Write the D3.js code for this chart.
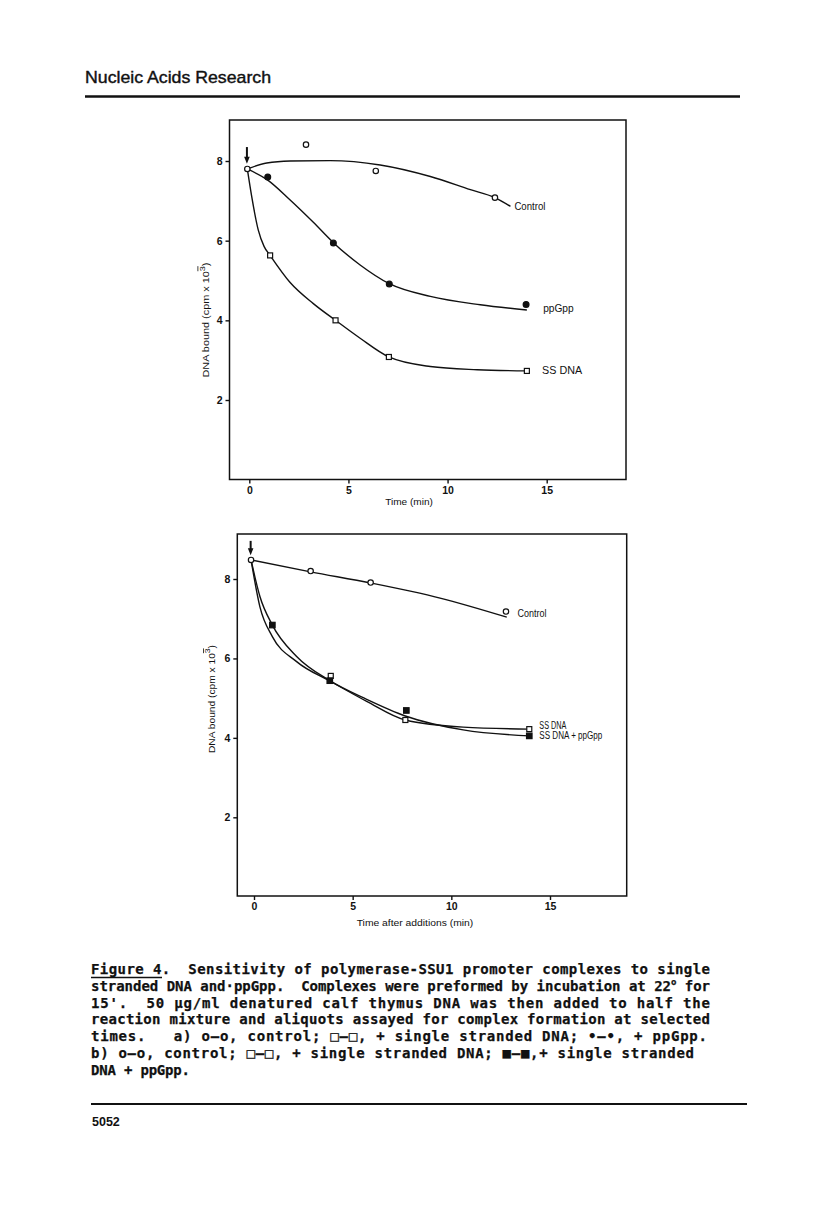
<!DOCTYPE html>
<html>
<head>
<meta charset="utf-8">
<script src="https://cdn.jsdelivr.net/npm/d3@7"></script>
<style>
  html, body { margin: 0; padding: 0; background: #fff; }
  svg { display: block; }
</style>
</head>
<body>
<svg id="page" width="816" height="1205"></svg>
<script>
// ---- data (time in min, DNA bound in cpm x 10^-3) ----
const xTicks = [0, 5, 10, 15];
const yTicks = [2, 4, 6, 8];

// panel a
const aControlPts = [[-0.1, 7.8], [2.86, 8.41], [6.38, 7.75], [12.39, 7.08]];
const aControlFit = [[-0.1, 7.8], [0.88, 7.95], [2.06, 8.0], [4.08, 8.01], [6.6, 7.9], [9.13, 7.61], [11.15, 7.28], [12.39, 7.08], [13.17, 6.86]];
const aPpgppPts = [[0.93, 7.6], [4.24, 5.94], [7.06, 4.91], [13.96, 4.4]];
const aPpgppFit = [[-0.1, 7.8], [0.93, 7.52], [2.06, 7.02], [3.23, 6.46], [4.24, 5.95], [5.59, 5.39], [7.06, 4.92], [9.13, 4.6], [11.65, 4.39], [14.0, 4.26]];
const aSsPts = [[1.05, 5.63], [4.35, 4.0], [7.04, 3.08], [14.0, 2.73]];
const aSsFit = [[-0.1, 7.8], [0.12, 7.11], [0.45, 6.27], [0.75, 5.85], [1.05, 5.63], [2.06, 4.95], [3.23, 4.42], [4.35, 4.0], [5.59, 3.55], [7.04, 3.08], [9.13, 2.84], [11.5, 2.76], [14.0, 2.73]];

// panel b
const bControlPts = [[-0.15, 8.48], [2.87, 8.2], [5.91, 7.91], [12.77, 7.18]];
const bControlFit = [[-0.15, 8.48], [2.87, 8.18], [5.91, 7.9], [9.43, 7.52], [12.81, 7.04]];
const bSsPts = [[3.89, 5.56], [7.67, 4.45], [13.95, 4.22]];
const bSsFit = [[-0.15, 8.48], [0.3, 7.3], [0.93, 6.55], [2.16, 5.92], [3.89, 5.42], [5.71, 4.92], [7.67, 4.45], [10.6, 4.27], [13.95, 4.22]];
const bSsPpPts = [[0.93, 6.84], [3.84, 5.44], [7.72, 4.69], [13.95, 4.05]];
const bSsPpFit = [[-0.15, 8.48], [0.3, 7.56], [0.93, 6.84], [2.16, 6.05], [3.84, 5.44], [5.71, 4.97], [7.67, 4.55], [10.6, 4.2], [13.95, 4.05]];

// curve labels [text, x, y]
const aLabels = [["Control", 13.37, 6.85], ["ppGpp", 14.82, 4.31], ["SS DNA", 14.77, 2.75]];
const bLabels = [["Control", 13.35, 7.12], ["SS DNA", 14.46, 4.3], ["SS DNA + ppGpp", 14.46, 4.05]];
// arrow marking the addition: [x, yFrom, yTo]
const aArrow = [-0.12, 8.35, 7.93];
const bArrow = [-0.17, 8.96, 8.6];

const captionLines = [
  "Figure 4.  Sensitivity of polymerase-SSU1 promoter complexes to single",
  "stranded DNA and\u00b7ppGpp.  Complexes were preformed by incubation at 22|o| for",
  "15'.  50 \u00b5g/ml denatured calf thymus DNA was then added to half the",
  "reaction mixture and aliquots assayed for complex formation at selected",
  "times.   a) o\u2014o, control; \u25a1\u2014\u25a1, + single stranded DNA; \u2022\u2014\u2022, + ppGpp.",
  "b) o\u2014o, control; \u25a1\u2014\u25a1, + single stranded DNA; \u25a0\u2014\u25a0,+ single stranded",
  "DNA + ppGpp."
];
const captionWidths = [619, 619, 619, 619, 616, 603, 99];

const svg = d3.select('#page');
const ink = '#111';
const sans = '"Liberation Sans", Arial, Helvetica, sans-serif';

// ---- page header / footer ----
svg.append('text').attr('x', 85).attr('y', 83.3)
  .attr('font-family', sans).attr('font-size', 17).attr('fill', ink)
  .attr('stroke', ink).attr('stroke-width', 0.4)
  .attr('textLength', 186).attr('lengthAdjust', 'spacingAndGlyphs')
  .text('Nucleic Acids Research');
svg.append('line').attr('x1', 85).attr('x2', 740).attr('y1', 96.5).attr('y2', 96.5)
  .attr('stroke', ink).attr('stroke-width', 2.5);
svg.append('line').attr('x1', 91).attr('x2', 747).attr('y1', 1104).attr('y2', 1104)
  .attr('stroke', ink).attr('stroke-width', 2);
svg.append('text').attr('x', 92).attr('y', 1126)
  .attr('font-family', sans).attr('font-size', 12.5).attr('font-weight', 'bold').attr('fill', ink)
  .text('5052');

// ---- one panel ----
function drawPanel(cfg) {
  const { frame, xRange, yRange } = cfg;
  const x = d3.scaleLinear().domain([0, 15]).range(xRange);
  const y = d3.scaleLinear().domain([2, 8]).range(yRange);
  const g = svg.append('g');

  g.append('rect')
    .attr('x', frame.left).attr('y', frame.top)
    .attr('width', frame.right - frame.left).attr('height', frame.bottom - frame.top)
    .attr('fill', 'none').attr('stroke', ink).attr('stroke-width', 1.5);

  const yAxis = g.append('g').attr('transform', `translate(${frame.left},0)`)
    .call(d3.axisLeft(y).tickValues(yTicks).tickSize(4).tickPadding(3).tickFormat(d3.format('d')));
  const xAxis = g.append('g').attr('transform', `translate(0,${frame.bottom})`)
    .call(d3.axisBottom(x).tickValues(xTicks).tickSize(4).tickPadding(3).tickFormat(d3.format('d')));
  [yAxis, xAxis].forEach(ax => {
    ax.select('.domain').remove();
    ax.selectAll('line').attr('stroke', ink).attr('stroke-width', 1.4);
    ax.selectAll('text').attr('font-family', sans).attr('font-size', 10.5)
      .attr('font-weight', 'bold').attr('fill', ink);
  });

  // axis titles
  g.append('text')
    .attr('x', cfg.xTitle.x).attr('y', cfg.xTitle.y)
    .attr('text-anchor', 'middle').attr('font-family', sans).attr('font-size', 9).attr('fill', ink)
    .attr('textLength', cfg.xTitle.w).attr('lengthAdjust', 'spacingAndGlyphs')
    .text(cfg.xTitle.text);
  const yt = g.append('text')
    .attr('transform', `translate(${cfg.yTitle.x},${cfg.yTitle.y}) rotate(-90)`)
    .attr('text-anchor', 'middle').attr('font-family', sans).attr('font-size', 9.5).attr('fill', ink)
    .attr('textLength', cfg.yTitle.w).attr('lengthAdjust', 'spacingAndGlyphs');
  yt.append('tspan').text('DNA  bound  (cpm x 10');
  yt.append('tspan').attr('dy', -4.5).attr('font-size', 8).attr('text-decoration', 'overline').text('3');
  yt.append('tspan').attr('dy', 4.5).text(')');

  // fitted curves
  const line = d3.line().x(d => x(d[0])).y(d => y(d[1])).curve(d3.curveMonotoneX);
  cfg.series.forEach(s => {
    g.append('path').datum(s.fit)
      .attr('d', line).attr('fill', 'none').attr('stroke', ink).attr('stroke-width', 1.4);
  });

  // markers
  cfg.series.forEach(s => {
    const filled = s.marker.startsWith('filled');
    const isSquare = s.marker.endsWith('square');
    const sel = g.selectAll(null).data(s.pts).enter();
    if (isSquare) {
      const sz = filled ? 5.5 : 5;
      sel.append('rect')
        .attr('x', d => x(d[0]) - sz / 2).attr('y', d => y(d[1]) - sz / 2)
        .attr('width', sz).attr('height', sz)
        .attr('fill', filled ? ink : '#fff').attr('stroke', ink).attr('stroke-width', 1.2);
    } else {
      sel.append('circle')
        .attr('cx', d => x(d[0])).attr('cy', d => y(d[1]))
        .attr('r', filled ? 2.9 : 2.7)
        .attr('fill', filled ? ink : '#fff').attr('stroke', ink).attr('stroke-width', 1.2);
    }
  });

  // arrow at time of addition
  const ax0 = x(cfg.arrow[0]), ay0 = y(cfg.arrow[1]), ay1 = y(cfg.arrow[2]);
  g.append('line').attr('x1', ax0).attr('x2', ax0).attr('y1', ay0).attr('y2', ay1 - 4)
    .attr('stroke', ink).attr('stroke-width', 2);
  g.append('path')
    .attr('d', `M${ax0 - 2.8},${ay1 - 7}L${ax0 + 2.8},${ay1 - 7}L${ax0},${ay1}Z`)
    .attr('fill', ink);

  // curve labels
  cfg.labels.forEach((l, i) => {
    g.append('text')
      .attr('x', x(l[1])).attr('y', y(l[2])).attr('dy', '0.35em')
      .attr('font-family', sans).attr('font-size', cfg.labelSize).attr('fill', ink)
      .attr('textLength', cfg.labelW[i]).attr('lengthAdjust', 'spacingAndGlyphs')
      .text(l[0]);
  });
}

drawPanel({
  frame: { left: 229.5, top: 120, right: 626, bottom: 479.5 },
  xRange: [249.3, 546.7], yRange: [400, 161],
  xTitle: { text: 'Time (min)', x: 409, y: 505, w: 47.7 },
  yTitle: { x: 209, y: 320, w: 115 },
  series: [
    { pts: aControlPts, fit: aControlFit, marker: 'open-circle' },
    { pts: aPpgppPts, fit: aPpgppFit, marker: 'filled-circle' },
    { pts: aSsPts, fit: aSsFit, marker: 'open-square' }
  ],
  labels: aLabels, labelW: [31, 30.5, 40], labelSize: 10.5,
  arrow: aArrow
});

drawPanel({
  frame: { left: 237.3, top: 534, right: 626.7, bottom: 896 },
  xRange: [254, 550], yRange: [817.3, 579],
  xTitle: { text: 'Time  after  additions  (min)', x: 415, y: 926, w: 116.6 },
  yTitle: { x: 214.5, y: 699, w: 108 },
  series: [
    { pts: bControlPts, fit: bControlFit, marker: 'open-circle' },
    { pts: bSsPts, fit: bSsFit, marker: 'open-square' },
    { pts: bSsPpPts, fit: bSsPpFit, marker: 'filled-square' }
  ],
  labels: bLabels, labelW: [29, 27, 63], labelSize: 10,
  arrow: bArrow
});

// ---- caption ----
const cap = svg.append('g')
  .attr('font-family', '"DejaVu Sans Mono", "Liberation Mono", monospace')
  .attr('font-size', 14).attr('font-weight', 'bold').attr('fill', ink)
  .attr('stroke', ink).attr('stroke-width', 0.25);
captionLines.forEach((ln, i) => {
  const t = cap.append('text').attr('x', 91).attr('y', 974 + i * 16.8)
    .attr('textLength', captionWidths[i]).attr('lengthAdjust', 'spacing')
    .attr('xml:space', 'preserve').style('white-space', 'pre');
  ln.split('|').forEach((part, k) => {
    if (k % 2 === 1) {
      t.append('tspan').attr('dy', -6).attr('font-size', 9).text(part);
    } else {
      t.append('tspan').attr('dy', k > 0 ? 6 : 0).text(part);
    }
  });
});
cap.append('line').attr('x1', 91).attr('x2', 162).attr('y1', 977.5).attr('y2', 977.5)
  .attr('stroke', ink).attr('stroke-width', 1.3);
</script>
</body>
</html>
